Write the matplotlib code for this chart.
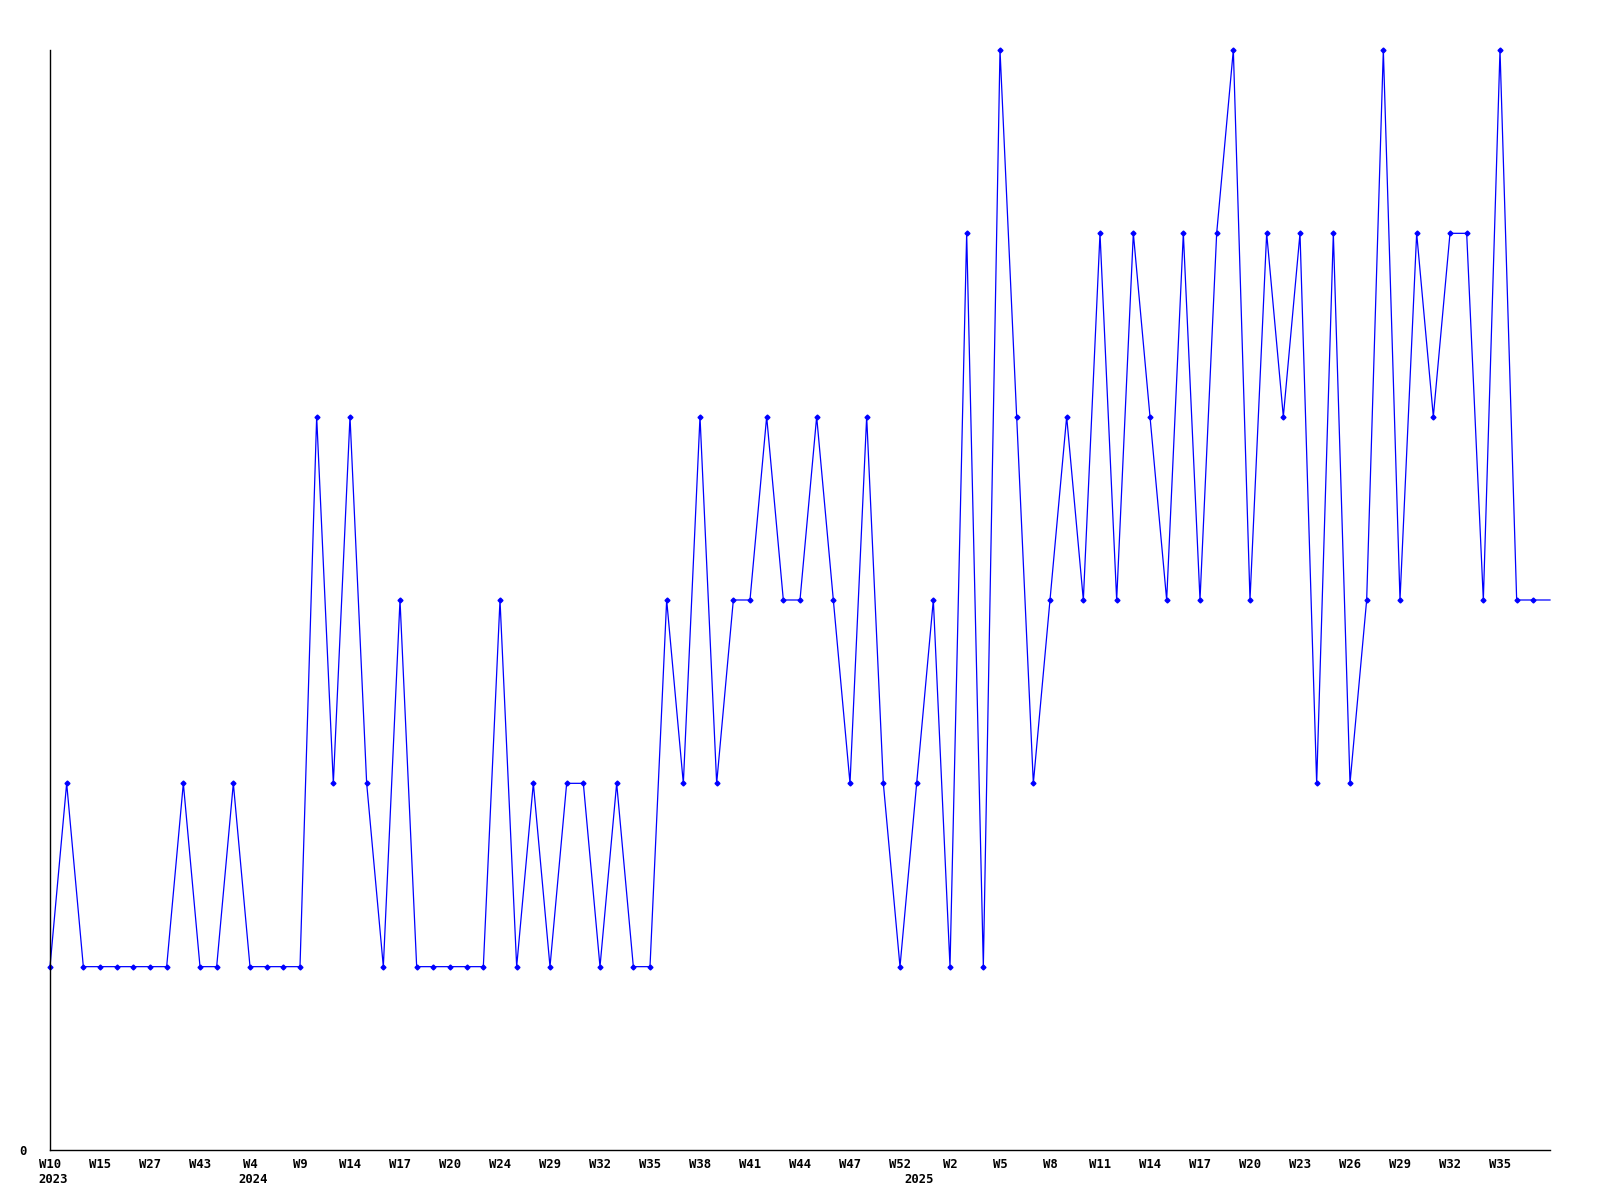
import matplotlib
matplotlib.use('Agg')
import matplotlib.pyplot as plt
import numpy as np

# Valores semanales (90 semanas con dato + semana en curso)
valores = [1, 2, 1, 1, 1, 1, 1, 1, 2, 1,
           1, 2, 1, 1, 1, 1, 4, 2, 4, 2,
           1, 3, 1, 1, 1, 1, 1, 3, 1, 2,
           1, 2, 2, 1, 2, 1, 1, 3, 2, 4,
           2, 3, 3, 4, 3, 3, 4, 3, 2, 4,
           2, 1, 2, 3, 1, 5, 1, 6, 4, 2,
           3, 4, 3, 5, 3, 5, 4, 3, 5, 3,
           5, 6, 3, 5, 4, 5, 2, 5, 2, 3,
           6, 3, 5, 4, 5, 5, 3, 6, 3, 3,
           3]

# Etiquetas del eje x (una cada 3 puntos)
semanas = ['W10', 'W15', 'W27', 'W43', 'W4', 'W9', 'W14', 'W17', 'W20', 'W24',
           'W29', 'W32', 'W35', 'W38', 'W41', 'W44', 'W47', 'W52', 'W2', 'W5',
           'W8', 'W11', 'W14', 'W17', 'W20', 'W23', 'W26', 'W29', 'W32', 'W35']
anios = ['2023', '2024', '2025']
pos_anios = [0, 12, 52]

x = np.arange(len(valores))

fig = plt.figure(figsize=(16, 12), dpi=100)
ax = fig.add_axes([0.03125, 0.04167, 0.9375, 0.91667])

ax.plot(x, valores, color='#0000ff', lw=0.9, marker='D', markersize=2.5,
        markevery=list(range(len(valores) - 1)), clip_on=False)

ax.set_xlim(0, len(valores) - 1)
ax.set_ylim(0, 6)

for s in ['top', 'right']:
    ax.spines[s].set_visible(False)
for s in ['left', 'bottom']:
    ax.spines[s].set_color('black')
    ax.spines[s].set_linewidth(1.0)

fuente = dict(family='DejaVu Sans Mono', weight='bold', size=8.8)

ax.set_yticks([0])
ax.set_yticklabels(['0'], **fuente)
ax.tick_params(axis='y', length=0, pad=17)

ax.set_xticks(x[::3][:len(semanas)])
ax.set_xticklabels(semanas, **fuente)
ax.tick_params(axis='x', length=0, pad=6)

# Años debajo de las semanas
for anio, p in zip(anios, pos_anios):
    ax.annotate(anio, xy=(p, 0), xycoords=('data', 'axes fraction'),
                xytext=(-12, -23), textcoords='offset pixels',
                ha='left', va='top', **fuente)

plt.savefig('out.png', dpi=100)
